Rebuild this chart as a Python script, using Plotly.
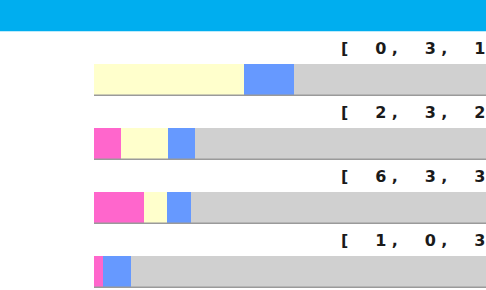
import plotly.graph_objects as go

# Data (segment sizes, in % of each row's total)
row_labels = ["[  0,  3,  1", "[  2,  3,  2", "[  6,  3,  3", "[  1,  0,  3"]
pink = [0.0, 2.8, 5.1, 0.92]
yellow = [15.3, 4.7, 2.35, 0.0]
blue = [5.1, 2.8, 2.4, 2.83]
gray = [100 - p - y - b for p, y, b in zip(pink, yellow, blue)]

rows = list(range(len(row_labels)))
colors = {"pink": "#FF66CC", "yellow": "#FFFFCC", "blue": "#6699FF", "gray": "#D0D0D0"}

fig = go.Figure()
for name, vals in [("pink", pink), ("yellow", yellow), ("blue", blue), ("gray", gray)]:
    fig.add_trace(go.Bar(
        x=vals, y=rows, orientation="h", width=0.48,
        marker=dict(color=colors[name], line=dict(width=0)),
        hoverinfo="skip", showlegend=False,
    ))

LS = "\u2004"  # emulate letter spacing
shapes = []
annotations = []
for i, lab in zip(rows, row_labels):
    # underline at bottom of each bar
    shapes.append(dict(type="line", xref="x", yref="y", x0=0, x1=100,
                       y0=i + 0.245, y1=i + 0.245,
                       line=dict(color="#9A9A9A", width=1.5)))
    annotations.append(dict(
        text=LS.join(lab), xref="x", yref="y", x=25.0, y=i - 0.477,
        xanchor="left", yanchor="middle", showarrow=False,
        font=dict(family="Verdana, DejaVu Sans", size=16, color="#1a1a1a", weight="bold"),
    ))

# header band
shapes.append(dict(type="rect", xref="paper", yref="paper",
                   x0=-0.3, x1=1.05, y0=1 + 1 / 258, y1=1.2,
                   fillcolor="#00AEEF", line=dict(width=0), layer="above"))
shapes.append(dict(type="line", xref="paper", yref="paper",
                   x0=-0.3, x1=1.05, y0=1 + 0.5 / 258, y1=1 + 0.5 / 258,
                   line=dict(color="#BDEBFB", width=1)))

fig.update_layout(
    width=486, height=290,
    margin=dict(l=94, r=0, t=32, b=0),
    barmode="stack",
    bargap=0,
    paper_bgcolor="white", plot_bgcolor="white",
    xaxis=dict(range=[0, 40], visible=False, fixedrange=True),
    yaxis=dict(range=[3.289, -0.742], visible=False, fixedrange=True),
    shapes=shapes,
    annotations=annotations,
)

fig.write_html("out.html", config={"displayModeBar": False})
